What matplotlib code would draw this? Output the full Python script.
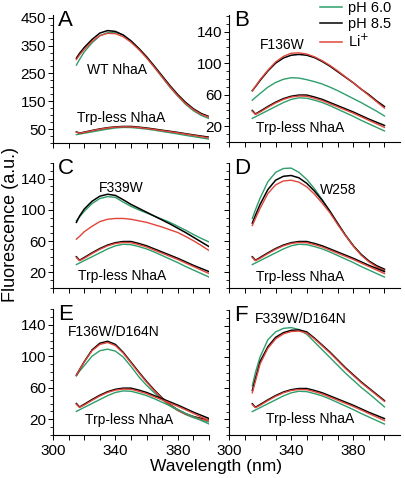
import numpy as np
import matplotlib
matplotlib.use("Agg")
import matplotlib.pyplot as plt
from matplotlib.ticker import MultipleLocator

plt.rcParams['font.family'] = ['Liberation Sans', 'DejaVu Sans']

# wavelengths (nm) at which the curves were read
wl = [315, 317, 320, 325, 330, 335, 340, 345, 350, 355, 360,
      365, 370, 375, 380, 385, 390, 395, 400]

# Trp-less NhaA (same control in every panel)
trp_ph6 = [30, 32, 35, 40, 45, 50, 54, 56, 55.5, 53, 50,
           46, 41.5, 37, 32.5, 27.5, 23, 18.5, 14]
trp_ph85 = [40, 35.5, 39, 45, 50.5, 55, 58, 59.5, 59.5, 57, 54,
            50, 46, 42, 38, 33.5, 29, 25, 21]
trp_li = [39, 35, 38, 44, 49.5, 54, 57, 58.3, 58, 55.5, 52.5,
          48.5, 44.5, 40.5, 36.5, 32, 27.5, 23, 18.5]

# A: WT NhaA
wt_ph6 = [280, 300, 327, 360, 385, 397, 398, 388, 366, 338, 307,
          272, 236, 200, 168, 139, 116, 99, 88]
wt_ph85 = [305, 322, 343, 372, 395, 404, 401, 388, 367, 340, 310,
           276, 241, 206, 174, 146, 123, 106, 95]
wt_li = [300, 316, 336, 365, 386, 394, 393, 382, 362, 336, 306,
         272, 237, 202, 170, 142, 120, 103, 93]

# B: F136W
b_ph6 = [53, 56.5, 61.5, 69.5, 75.5, 79.5, 81.5, 81, 79, 76.5, 73.5,
         69.5, 65, 60, 55, 50, 44.5, 39, 33]
b_ph85 = [65, 70, 78, 90, 100, 106.5, 110, 111, 110, 107, 102,
          96, 89, 82, 75, 67, 60, 52, 45]
b_li = [65, 70.5, 79, 91, 101.5, 108.5, 112.5, 113, 111.5, 108, 103,
        97, 90, 82.5, 75, 67, 59, 51, 43]

# C: F339W
c_ph6 = [86, 91, 98, 108, 114.5, 117, 116, 110, 104.5, 100, 96,
         92, 88, 84, 79, 74, 68.5, 63.5, 59]
c_ph85 = [84, 92, 101, 111, 117.5, 120, 118.5, 113, 107, 102, 97,
          92, 87, 82, 76.5, 71, 65, 59, 53]
c_li = [62.5, 66, 72, 79, 85, 88, 89, 89, 88, 86, 84,
        81, 78, 74.5, 71, 66, 60.5, 54.5, 48]

# D: W258
d_ph6 = [89, 100, 115, 136, 148, 153, 153.5, 148, 139, 127, 113,
         98, 82, 67, 54, 43, 34.5, 28, 23.5]
d_ph85 = [83, 93, 107, 126, 138, 143, 144, 141, 134, 124, 112,
          98, 82.5, 67.5, 54, 43, 34.5, 28.5, 24]
d_li = [80, 89, 102, 121, 132, 137, 138, 135.5, 129.5, 120, 108.5,
        96, 81, 67, 53.5, 42, 33.5, 27, 22.5]

# E: F136W/D164N
e_ph6 = [75, 81, 88, 100, 107, 109, 106.5, 99, 87, 74, 63,
         53.5, 45, 37, 31, 26, 22, 19, 16.5]
e_ph85 = [76, 83, 93, 108, 116.5, 119, 115, 105, 92.5, 80, 68,
          57, 47, 38.5, 32, 27, 23.5, 21, 19]
e_li = [76, 83, 92.5, 107, 115, 117.5, 113.5, 104, 91.5, 79, 67,
        56, 46, 38, 31.5, 26.5, 23, 20, 18]

# F: F339W/D164N
f_ph6 = [63, 80, 100, 122, 132, 136.5, 137.5, 135, 129, 119, 109,
         99, 89, 79, 70, 61, 53, 44.5, 36]
f_ph85 = [57, 72, 94, 113, 125, 131, 134, 134.5, 132, 124, 115,
          106, 96, 86, 77, 68, 60, 52, 44]
f_li = [54, 69, 91, 111, 123, 129.5, 132.5, 133, 130.5, 123, 114,
        105, 95, 85, 76, 67, 59, 51, 43]

green = '#2e9e6b'
black = '#000000'
red = '#e0453a'

W, H = 406, 478
fig = plt.figure(figsize=(W / 100, H / 100), dpi=100)


def make_ax(l, t, r, b):
    return fig.add_axes([l / W, 1 - b / H, (r - l) / W, (b - t) / H])


panels = [
    # letter, rect, data, name, name pos, trp-less label pos, ylim, xlim
    ("A", (53, 15, 209, 143), (wt_ph6, wt_ph85, wt_li), "WT NhaA", (341, 262),
     (343.5, 90), (0, 460), (300, 400)),
    ("B", (229, 15, 400, 142), (b_ph6, b_ph85, b_li), "F136W", (334.5, 123.5),
     (345.5, 18), (0, 161), (300, 410)),
    ("C", (53, 163, 209, 288), (c_ph6, c_ph85, c_li), "F339W", (343.5, 127.5),
     (344, 15.5), (0, 160), (300, 400)),
    ("D", (229, 163, 400, 288), (d_ph6, d_ph85, d_li), "W258", (370, 125.5),
     (345.5, 14.5), (0, 160), (300, 410)),
    ("E", (53, 309, 209, 435), (e_ph6, e_ph85, e_li), "F136W/D164N", (339, 131),
     (349, 19), (0, 160), (300, 400)),
    ("F", (229, 310, 400, 435), (f_ph6, f_ph85, f_li), "F339W/D164N", (346, 149),
     (352, 20), (0, 160), (300, 410)),
]

axes = {}
for letter, rect, data, name, name_xy, trp_xy, ylim, xlim in panels:
    ax = make_ax(*rect)
    axes[letter] = ax
    for ph6, ph85, li in (data, (trp_ph6, trp_ph85, trp_li)):
        ax.plot(wl, ph6, color=green, lw=1.0)
        ax.plot(wl, ph85, color=black, lw=1.1)
        ax.plot(wl, li, color=red, lw=1.0)
    ax.set_xlim(*xlim)
    ax.set_ylim(*ylim)
    for s in ("top", "right"):
        ax.spines[s].set_visible(False)
    ax.spines["left"].set_linewidth(0.8)
    ax.spines["bottom"].set_linewidth(0.8)

    ax.set_xticks(np.arange(300, 401, 10))
    if letter in ("E", "F"):
        ax.set_xticklabels([str(v) if v in (300, 340, 380) else ""
                            for v in range(300, 401, 10)])
    else:
        ax.set_xticklabels([])

    if letter == "A":
        ax.set_yticks([50, 150, 250, 350, 450])
        ax.yaxis.set_minor_locator(MultipleLocator(25))
    else:
        ax.set_yticks([20, 60, 100, 140])
        ax.yaxis.set_minor_locator(MultipleLocator(10))
    if letter in ("D", "F"):
        ax.set_yticklabels([])

    ax.tick_params(axis="both", which="major", length=3.5, width=0.7,
                   labelsize=11, pad=1.5)
    ax.tick_params(axis="x", pad=3)
    ax.tick_params(axis="y", which="minor", length=2, width=0.6)

    ax.text(0.03, 1.04, letter, transform=ax.transAxes, fontsize=16,
            va="top", ha="left")
    ax.text(name_xy[0], name_xy[1], name, fontsize=10, ha="center",
            va="center")
    ax.text(trp_xy[0], trp_xy[1], "Trp-less NhaA", fontsize=10,
            ha="center", va="center")

# legend in panel B
handles = [plt.Line2D([], [], color=c, lw=1.1) for c in (green, black, red)]
fig.legend(handles, ["pH 6.0", "pH 8.5", "Li$^{+}$"], loc="upper left",
           bbox_to_anchor=(320 / W, 1 - 1 / H), frameon=False,
           fontsize=10.5, handlelength=1.5, handletextpad=0.4,
           labelspacing=0.12, borderpad=0, borderaxespad=0)

fig.text(11 / W, 1 - 225 / H, "Fluorescence (a.u.)", rotation=90,
         fontsize=13, ha="center", va="center")
fig.text(216 / W, 1 - 466 / H, "Wavelength (nm)", fontsize=12.5,
         ha="center", va="center")

fig.savefig("out.png", dpi=100)
